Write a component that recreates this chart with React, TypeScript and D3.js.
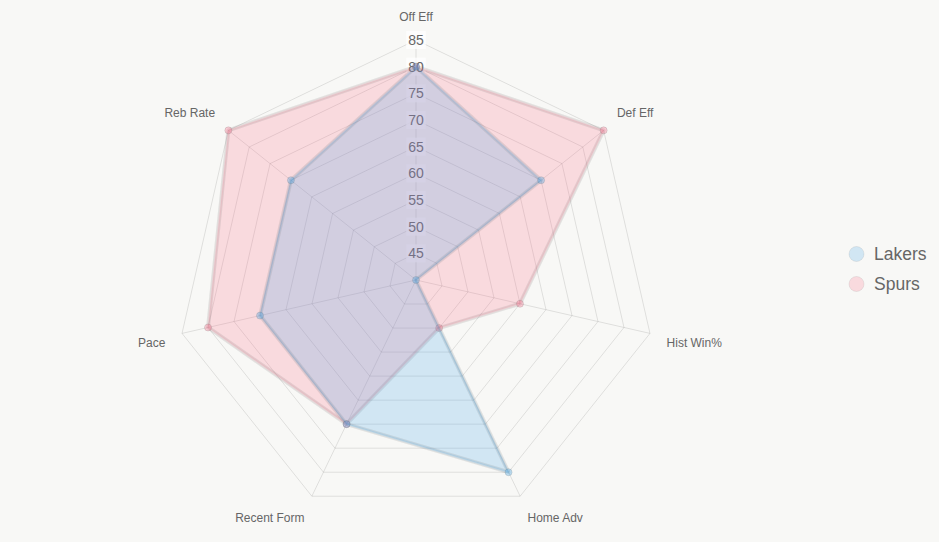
import React, { useEffect, useRef } from 'react';
import * as d3 from 'd3';

const axes = ['Off Eff', 'Def Eff', 'Hist Win%', 'Home Adv', 'Recent Form', 'Pace', 'Reb Rate'];
const lakers = [80, 70, 40, 80, 70, 70, 70];
const spurs = [80, 85, 60, 50, 70, 80, 85];
const tickValues = [45, 50, 55, 60, 65, 70, 75, 80, 85];

const series = [
  { name: 'Lakers', values: lakers, fill: 'rgba(54,162,235,0.2)', stroke: 'rgba(54,162,235,0.15)', point: 'rgba(54,162,235,0.3)' },
  { name: 'Spurs', values: spurs, fill: 'rgba(255,99,132,0.2)', stroke: 'rgba(255,99,132,0.1)', point: 'rgba(255,99,132,0.3)' },
];

const W = 939;
const H = 542;
const cx = 416;
const cy = 280;
const R = 240;
const font = '"Liberation Sans", Arial, Helvetica, sans-serif';

const App = () => {
  const ref = useRef<SVGSVGElement>(null);

  useEffect(() => {
    const svg = d3.select(ref.current);
    svg.selectAll('*').remove();
    svg.attr('width', W).attr('height', H).style('background', '#f8f8f6');

    const r = d3.scaleLinear().domain([40, 85]).range([0, R]);
    const n = axes.length;
    const ang = (i: number) => (i * 2 * Math.PI) / n;
    const pt = (i: number, rad: number): [number, number] => [
      rad * Math.sin(ang(i)),
      -rad * Math.cos(ang(i)),
    ];

    const g = svg.append('g').attr('transform', `translate(${cx},${cy})`);

    // grid polygons
    const poly = d3.lineRadial<number>()
      .angle((d, i) => ang(i))
      .radius(d => r(d))
      .curve(d3.curveLinearClosed);

    tickValues.forEach(t => {
      g.append('path')
        .attr('d', poly(axes.map(() => t)))
        .attr('fill', 'none')
        .attr('stroke', 'rgba(0,0,0,0.1)')
        .attr('stroke-width', 1);
    });

    // angle lines
    axes.forEach((a, i) => {
      const [x, y] = pt(i, R);
      g.append('line')
        .attr('x1', 0).attr('y1', 0)
        .attr('x2', x).attr('y2', y)
        .attr('stroke', 'rgba(0,0,0,0.1)')
        .attr('stroke-width', 1);
    });

    // tick labels with backdrop
    tickValues.forEach(t => {
      const y = -r(t);
      const txt = String(t);
      const w = txt.length * 7.8;
      g.append('rect')
        .attr('x', -w / 2 - 2)
        .attr('y', y - 9)
        .attr('width', w + 4)
        .attr('height', 18)
        .attr('fill', 'rgba(255,255,255,0.75)');
      g.append('text')
        .attr('x', 0)
        .attr('y', y)
        .attr('dy', '0.35em')
        .attr('text-anchor', 'middle')
        .style('font-family', font)
        .style('font-size', '14px')
        .style('fill', '#666')
        .text(txt);
    });

    // datasets: first dataset ends up on top
    const drawOrder = [...series].reverse();
    drawOrder.forEach(s => {
      g.append('path')
        .attr('d', poly(s.values))
        .attr('fill', s.fill)
        .attr('stroke', 'rgba(120,120,120,0.17)')
        .attr('stroke-width', 4)
        .attr('stroke-linejoin', 'round');
      g.append('path')
        .attr('d', poly(s.values))
        .attr('fill', 'none')
        .attr('stroke', s.stroke)
        .attr('stroke-width', 2)
        .attr('stroke-linejoin', 'round');
      s.values.forEach((v, i) => {
        const [x, y] = pt(i, r(v));
        g.append('circle')
          .attr('cx', x)
          .attr('cy', y)
          .attr('r', 3.5)
          .attr('fill', s.point)
          .attr('stroke', 'rgba(110,110,110,0.22)')
          .attr('stroke-width', 1);
      });
    });

    // point labels
    axes.forEach((a, i) => {
      const [x, y] = pt(i, 257);
      const deg = (i * 360) / n;
      let anchor = 'middle';
      if (deg > 0 && deg < 180) anchor = 'start';
      else if (deg > 180) anchor = 'end';
      let dy = '0.35em';
      if (deg > 90 && deg < 270) dy = '0.85em';
      else if (deg < 90 || deg > 270) dy = '-0.2em';
      g.append('text')
        .attr('x', x)
        .attr('y', y)
        .attr('dy', dy)
        .attr('text-anchor', anchor)
        .style('font-family', font)
        .style('font-size', '12px')
        .style('fill', '#666')
        .text(a);
    });

    // legend
    const lg = svg.append('g').attr('transform', 'translate(856.5,254)');
    series.forEach((s, i) => {
      const row = lg.append('g').attr('transform', `translate(0,${i * 30})`);
      row.append('circle')
        .attr('r', 7.5)
        .attr('fill', s.fill)
        .attr('stroke', 'rgba(110,110,110,0.12)')
        .attr('stroke-width', 1);
      row.append('text')
        .attr('x', 17.5)
        .attr('dy', '0.35em')
        .style('font-family', font)
        .style('font-size', '17.5px')
        .style('fill', '#666')
        .text(s.name);
    });
  }, []);

  return (
    <div style={{ position: 'absolute', left: 0, top: 0 }}>
      <svg ref={ref} style={{ display: 'block' }}></svg>
    </div>
  );
};

export default App;
